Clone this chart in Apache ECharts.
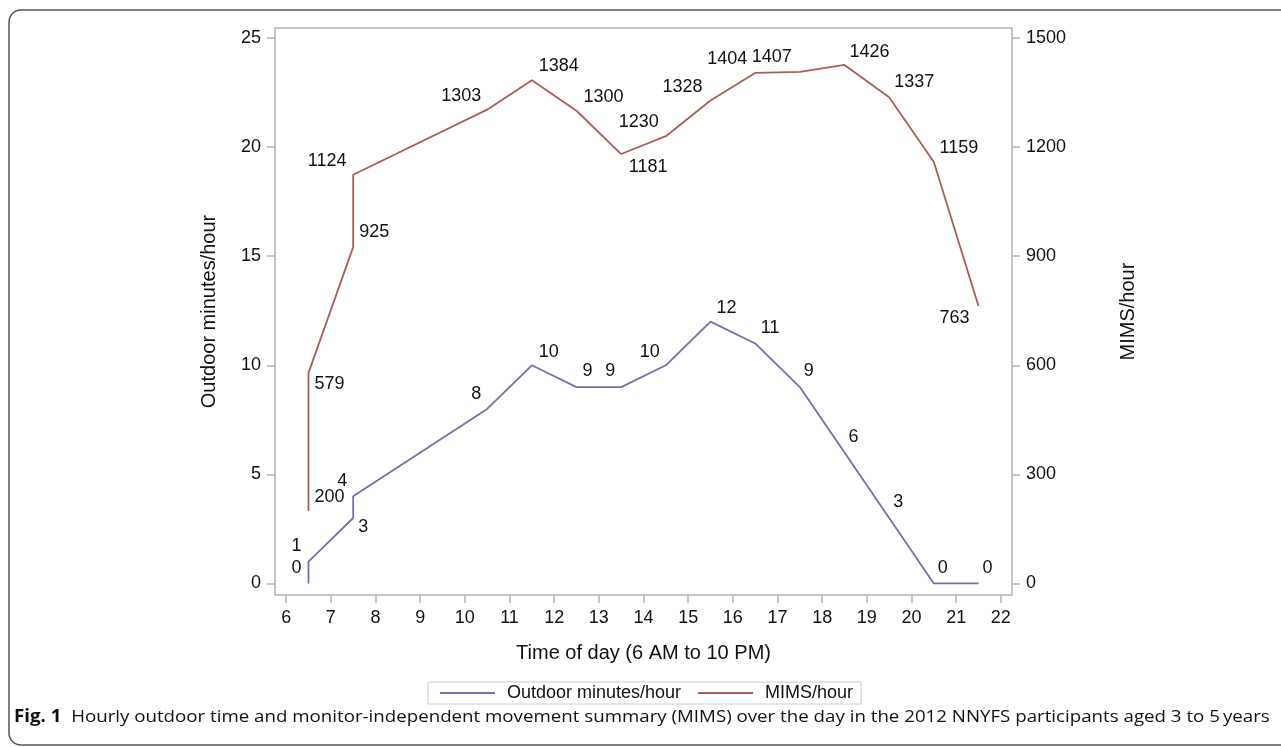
<!DOCTYPE html>
<html>
<head>
<meta charset="utf-8">
<script src="https://cdn.jsdelivr.net/npm/echarts@6/dist/echarts.min.js"></script>
<style>
  html, body { margin: 0; padding: 0; background: #fff; }
  #chart { width: 1281px; height: 747px; }
</style>
</head>
<body>
<div id="chart"></div>
<script>
// hours are mid-points of each hour; 6.5 and 7.5 appear twice in the source figure
const outdoorHours = [6.5, 6.5, 7.5, 7.5, 10.5, 11.5, 12.5, 13.5, 14.5, 15.5, 16.5, 17.5, 18.5, 19.5, 20.5, 21.5];
const outdoorValues = [0, 1, 3, 4, 8, 10, 9, 9, 10, 12, 11, 9, 6, 3, 0, 0];

const mimsHours = [6.5, 6.5, 7.5, 7.5, 10.5, 11.5, 12.5, 13.5, 14.5, 15.5, 16.5, 17.5, 18.5, 19.5, 20.5, 21.5];
const mimsValues = [200, 579, 925, 1124, 1303, 1384, 1300, 1181, 1230, 1328, 1404, 1407, 1426, 1337, 1159, 763];

const xTicks = [6, 7, 8, 9, 10, 11, 12, 13, 14, 15, 16, 17, 18, 19, 20, 21, 22];
const leftTicks = [0, 5, 10, 15, 20, 25];
const rightTicks = [0, 300, 600, 900, 1200, 1500];

// where each point label sits relative to its point (px)
const outdoorLabelOffset = [
  [-12, -15], [-12, -16], [10, 9], [-11, -15], [-11, -15], [17, -13], [11, -16], [-11, -16],
  [-16, -13], [16, -14], [15, -15], [9, -16], [9, -16], [9, -16], [9, -15], [9, -15]
];
const mimsLabelOffset = [
  [21, -14], [21, 11], [21, -15], [-26, -14], [-26, -14], [27, -14], [27, -14], [27, 13],
  [-27, -14], [-28, -14], [-28, -14], [-28, -15], [25, -13], [25, -15], [25, -14], [-24, 12]
];

const FONT = '"Liberation Sans", Arial, sans-serif';
const blue = '#6e72a8';
const red = '#ad5d58';
const frameGray = '#b4b4b4';

const chart = echarts.init(document.getElementById('chart'));

const pointLabel = {
  show: true,
  position: 'inside',
  color: '#111',
  fontFamily: FONT,
  fontSize: 18,
  formatter: p => p.value[1]
};

const offsetsBySeries = [outdoorLabelOffset, mimsLabelOffset];

const option = {
  backgroundColor: '#fff',
  animation: false,
  grid: {
    left: 275,
    right: 269,
    top: 28,
    height: 567,
    show: true,
    borderColor: frameGray,
    borderWidth: 1.5
  },
  legend: {
    data: ['Outdoor minutes/hour', 'MIMS/hour'],
    left: 428,
    top: 682,
    icon: 'rect',
    itemWidth: 55,
    itemHeight: 2,
    itemGap: 17,
    padding: [2, 8, 2, 12],
    borderColor: '#cccccc',
    borderWidth: 1,
    textStyle: { fontFamily: FONT, fontSize: 18, color: '#111', padding: [0, 0, 0, 7] }
  },
  xAxis: {
    type: 'value',
    min: 5.75,
    max: 22.25,
    name: 'Time of day (6 AM to 10 PM)',
    nameLocation: 'middle',
    nameGap: 48,
    nameTextStyle: { fontFamily: FONT, fontSize: 20, color: '#111' },
    axisLine: { show: false, onZero: false },
    splitLine: { show: false },
    axisTick: { show: true, customValues: xTicks, length: 8, lineStyle: { color: frameGray, width: 1.5 } },
    axisLabel: { customValues: xTicks, margin: 14, fontFamily: FONT, fontSize: 18, color: '#111' }
  },
  yAxis: [
    {
      type: 'value',
      position: 'left',
      min: -0.53,
      max: 25.46,
      name: 'Outdoor minutes/hour',
      nameLocation: 'middle',
      nameRotate: 90,
      nameGap: 56,
      nameTextStyle: { fontFamily: FONT, fontSize: 20, color: '#111' },
      axisLine: { show: false, onZero: false },
      splitLine: { show: false },
      axisTick: { show: true, customValues: leftTicks, length: 8, lineStyle: { color: frameGray, width: 1.5 } },
      axisLabel: { customValues: leftTicks, margin: 14, fontFamily: FONT, fontSize: 18, color: '#111' }
    },
    {
      type: 'value',
      position: 'right',
      min: -31.8,
      max: 1527.6,
      name: 'MIMS/hour',
      nameLocation: 'middle',
      nameRotate: 90,
      nameGap: 106,
      nameTextStyle: { fontFamily: FONT, fontSize: 20, color: '#111' },
      axisLine: { show: false, onZero: false },
      splitLine: { show: false },
      axisTick: { show: true, customValues: rightTicks, length: 8, lineStyle: { color: frameGray, width: 1.5 } },
      axisLabel: {
        customValues: rightTicks,
        margin: 14,
        fontFamily: FONT,
        fontSize: 18,
        color: '#111',
        formatter: v => String(v)
      }
    }
  ],
  series: [
    {
      name: 'Outdoor minutes/hour',
      type: 'line',
      yAxisIndex: 0,
      symbol: 'circle',
      symbolSize: 0,
      lineStyle: { color: blue, width: 1.8 },
      itemStyle: { color: blue },
      label: pointLabel,
      data: outdoorHours.map((h, i) => [h, outdoorValues[i]])
    },
    {
      name: 'MIMS/hour',
      type: 'line',
      yAxisIndex: 1,
      symbol: 'circle',
      symbolSize: 0,
      lineStyle: { color: red, width: 1.8 },
      itemStyle: { color: red },
      label: pointLabel,
      data: mimsHours.map((h, i) => [h, mimsValues[i]])
    }
  ],
  graphic: [
    {
      type: 'rect',
      shape: { x: 9, y: 10, width: 1300, height: 735, r: 12 },
      style: { fill: 'none', stroke: '#555', lineWidth: 1.5 },
      silent: true
    },
    {
      type: 'text',
      x: 14,
      y: 709,
      scaleX: 1.1,
      style: {
        text: '{b|Fig. 1}  Hourly outdoor time and monitor-independent movement summary (MIMS) over the day in the 2012 NNYFS participants aged 3 to 5\u2009years',
        fontFamily: '"Open Sans", sans-serif',
        fontSize: 17,
        fill: '#111',
        rich: {
          b: { fontFamily: '"Open Sans", sans-serif', fontSize: 17, fontWeight: 'bold', fill: '#111' }
        }
      }
    }
  ]
};

// per-point label placement, applied through the label layout hook
option.series.forEach((s, si) => {
  s.labelLayout = p => {
    const o = offsetsBySeries[si][p.dataIndex];
    return { dx: o[0], dy: o[1], hideOverlap: false };
  };
});

chart.setOption(option);
</script>
</body>
</html>
